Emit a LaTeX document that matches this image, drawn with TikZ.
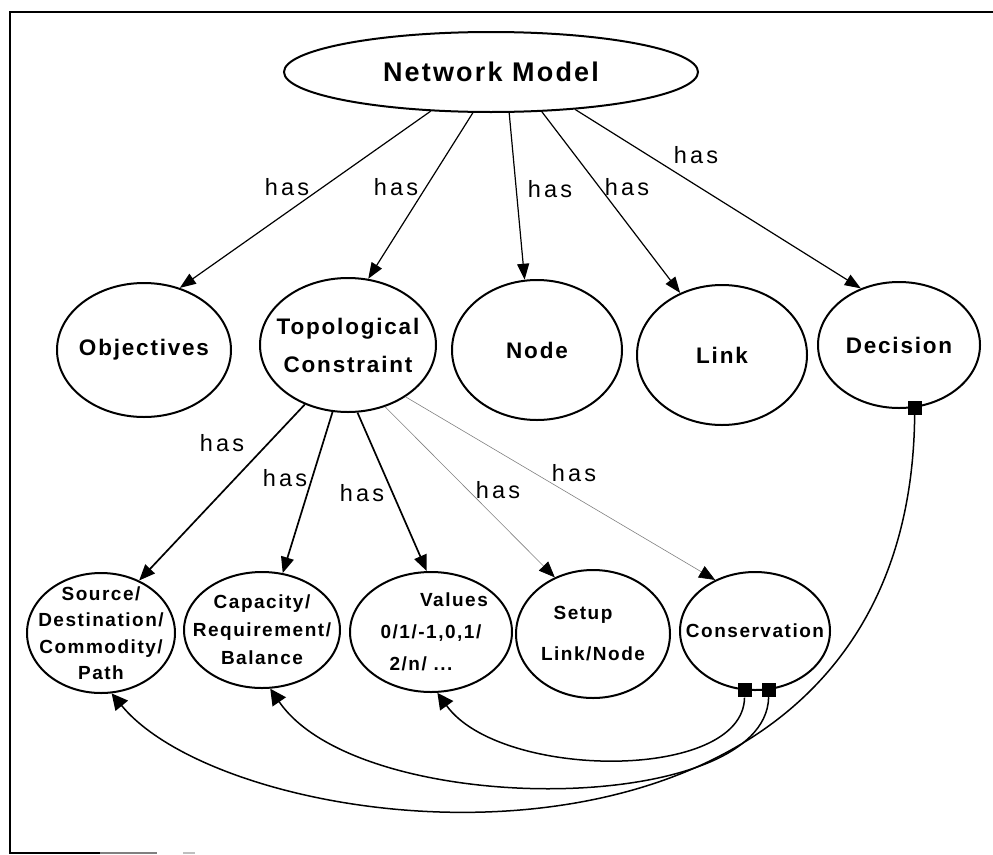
\documentclass[tikz,border=0pt]{standalone}
\usepackage{fontspec}
\setmainfont{Liberation Sans}
\usetikzlibrary{shapes.geometric}
\usetikzlibrary{arrows.meta}
\newfontfamily\boxfont[LetterSpace=8]{Liberation Sans}
\newfontfamily\hasfont[LetterSpace=14]{Liberation Sans}
\newcommand*{\bigfont}{\boxfont\bfseries\fontsize{27}{30}\selectfont}
\newcommand*{\midfont}{\boxfont\bfseries\fontsize{22.5}{38}\selectfont}
\newcommand*{\lowfont}{\boxfont\bfseries\fontsize{19}{26.5}\selectfont}

\begin{document}
\begin{tikzpicture}[x=1pt, y=-1pt,
    bubble/.style   = {ellipse, draw, line width=2pt, inner xsep=-40pt, inner ysep=-20pt, align=center, font=\midfont},
    lowbubble/.style= {bubble, font=\lowfont},
    port/.style     = {rectangle, fill=black, minimum size=14pt, inner sep=0pt},
    has/.style      = {font=\hasfont\fontsize{23.5}{26}\selectfont, inner sep=0pt},
    hasarrow/.style = {-{Triangle[length=16pt,width=12pt]}, line width=1.2pt},
    subarrow/.style = {-{Triangle[length=16pt,width=13pt]}, line width=1.7pt},
    thinarrow/.style= {-{Triangle[length=16pt,width=13pt,color=black]}, line width=0.6pt, gray},
    backarrow/.style= {-{Triangle[length=16pt,width=16pt]}, line width=1.5pt}]
    \useasboundingbox (0,0) rectangle (993,854);
    % frame
    \draw [line width=1.5pt] (993,12) -- (10,12) -- (10,853) -- (100,853);
    \draw [gray, line width=1.2pt] (100,853) -- (157,853);
    \draw [gray!50, line width=1.2pt] (183,853) -- (195,853);

    \node [bubble, minimum width=414pt, minimum height=80pt, font=\bigfont] (net) at (491,72) {Network Model};

    \node [bubble, minimum width=174pt, minimum height=134pt] (obj)  at (144,350) {Objectives};
    \node [bubble, minimum width=176pt, minimum height=134pt] (topo) at (348,345) {Topological\\Constraint};
    \node [bubble, minimum width=170pt, minimum height=140pt] (node) at (537,350) {Node};
    \node [bubble, minimum width=170pt, minimum height=140pt] (link) at (722,355) {Link};
    \node [bubble, minimum width=162pt, minimum height=126pt] (dec)  at (899,345) {Decision};

    \node [lowbubble, minimum width=148pt, minimum height=120pt] (src)   at (101,633) {Source/\\Destination/\\Commodity/\\Path};
    \node [lowbubble, minimum width=156pt, minimum height=116pt, font=\boxfont\bfseries\fontsize{19}{28}\selectfont] (cap) at (262,630) {Capacity/\\Requirement/\\Balance};
    \node [lowbubble, minimum width=162pt, minimum height=120pt, font=\boxfont\bfseries\fontsize{19}{32}\selectfont] (val) at (431,632) {\hspace*{46pt}Values\\0/1/-1,0,1/\\2/n/ ...\hspace*{20pt}};
    \node [lowbubble, minimum width=154pt, minimum height=128pt, font=\boxfont\bfseries\fontsize{19}{41}\selectfont] (setup) at (593,634) {Setup\hspace*{20pt}\\Link/Node};
    \node [lowbubble, minimum width=150pt, minimum height=118pt] (cons)  at (755,631) {Conservation};

    \node [port] (dport)  at (dec.284)  {};
    \node [port] (cport1) at (cons.260) {};
    \node [port] (cport2) at (cons.283) {};

    \draw [hasarrow] (net.213) -- (obj.60);
    \draw [hasarrow] (net.246) -- (topo.73);
    \draw [hasarrow] (net.294) -- (node.100);
    \draw [hasarrow] (net.322) -- (link.124);
    \draw [hasarrow] (net.336) -- (dec.124);

    \draw [subarrow]  (topo.234) -- (src.54);
    \draw [subarrow]  (topo.257) -- (cap.70);
    \draw [subarrow]  (topo.278) -- (val.94);
    \draw [thinarrow] (topo.301) -- (setup.124);
    \draw [thinarrow] (topo.318) -- (cons.128);

    \node [has] (has1)  at (287,187) {has};
    \node [has] (has2)  at (396,187) {has};
    \node [has] (has3)  at (550,189) {has};
    \node [has] (has4)  at (627,187) {has};
    \node [has] (has5)  at (696,155) {has};
    \node [has] (has6)  at (222,443) {has};
    \node [has] (has7)  at (285,478) {has};
    \node [has] (has8)  at (362,493) {has};
    \node [has] (has9)  at (498,490) {has};
    \node [has] (has10) at (574,473) {has};

    \draw [backarrow] (dport.south)  .. controls (910,924) and (240,850) .. (src.280);
    \draw [backarrow] (cport2.south) .. controls (766,817) and (360,820) .. (cap.278);
    \draw [backarrow] (cport1.south) .. controls (743,782) and (500,780) .. (val.276);
\end{tikzpicture}
\end{document}
